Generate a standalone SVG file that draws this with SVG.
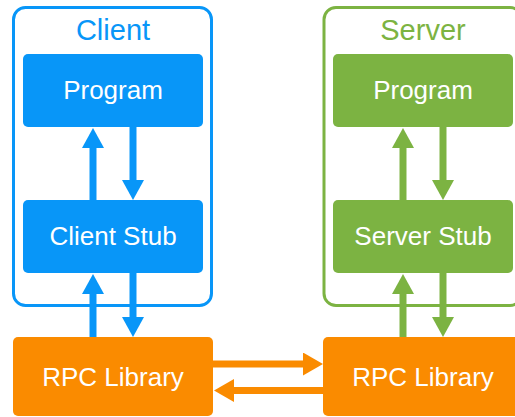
<svg xmlns="http://www.w3.org/2000/svg" width="515" height="417" viewBox="0 0 515 417">
  <style>
    text { font-family: "Liberation Sans", Arial, sans-serif; text-anchor: middle; }
    .label { font-size: 29px; }
    .node-text { font-size: 26px; fill: #ffffff; }
    .blue { fill: #0896F8; }
    .green { fill: #7CB342; }
    .orange { fill: #FA8B00; }
    .frame { fill: none; stroke-width: 3; }
    .shaft { stroke-width: 7; fill: none; }
    .hshaft { stroke-width: 7; fill: none; }
  </style>
  <defs>
    <marker id="head-blue" markerUnits="userSpaceOnUse" markerWidth="20" markerHeight="22" viewBox="0 0 20 22" refX="1" refY="11" orient="auto">
      <path d="M0,0 L20,11 L0,22 Z" fill="#0896F8"/>
    </marker>
    <marker id="head-green" markerUnits="userSpaceOnUse" markerWidth="20" markerHeight="22" viewBox="0 0 20 22" refX="1" refY="11" orient="auto">
      <path d="M0,0 L20,11 L0,22 Z" fill="#7CB342"/>
    </marker>
    <marker id="head-orange" markerUnits="userSpaceOnUse" markerWidth="20" markerHeight="23" viewBox="0 0 20 23" refX="1" refY="11.5" orient="auto">
      <path d="M0,0 L20,11.5 L0,23 Z" fill="#FA8B00"/>
    </marker>
  </defs>

  <!-- Client side -->
  <g id="client">
    <rect class="frame" x="13.5" y="7.5" width="198" height="298" rx="12" stroke="#0896F8"/>
    <text class="label blue" x="113" y="40">Client</text>
  </g>
  <g id="client-program">
    <rect class="blue" x="23" y="54" width="180" height="73" rx="5"/>
    <text class="node-text" x="113" y="99">Program</text>
  </g>
  <g id="client-stub">
    <rect class="blue" x="23" y="200" width="180" height="73" rx="5"/>
    <text class="node-text" x="113" y="245">Client Stub</text>
  </g>
  <g id="client-rpc">
    <rect class="orange" x="13" y="337" width="200" height="79" rx="5"/>
    <text class="node-text" x="113" y="386">RPC Library</text>
  </g>

  <!-- Server side -->
  <g id="server">
    <rect class="frame" x="324" y="7.5" width="198" height="298" rx="12" stroke="#7CB342"/>
    <text class="label green" x="423" y="40">Server</text>
  </g>
  <g id="server-program">
    <rect class="green" x="333" y="54" width="180" height="73" rx="5"/>
    <text class="node-text" x="423" y="99">Program</text>
  </g>
  <g id="server-stub">
    <rect class="green" x="333" y="200" width="180" height="73" rx="5"/>
    <text class="node-text" x="423" y="245">Server Stub</text>
  </g>
  <g id="server-rpc">
    <rect class="orange" x="323" y="337" width="200" height="79" rx="5"/>
    <text class="node-text" x="423" y="386">RPC Library</text>
  </g>

  <!-- Connectors -->
  <g id="connectors">
    <line class="shaft" x1="93" y1="200" x2="93" y2="147" stroke="#0896F8" marker-end="url(#head-blue)"/>
    <line class="shaft" x1="133" y1="127" x2="133" y2="181" stroke="#0896F8" marker-end="url(#head-blue)"/>
    <line class="shaft" x1="93" y1="337" x2="93" y2="293" stroke="#0896F8" marker-end="url(#head-blue)"/>
    <line class="shaft" x1="133" y1="273" x2="133" y2="318" stroke="#0896F8" marker-end="url(#head-blue)"/>

    <line class="shaft" x1="403" y1="200" x2="403" y2="147" stroke="#7CB342" marker-end="url(#head-green)"/>
    <line class="shaft" x1="443" y1="127" x2="443" y2="181" stroke="#7CB342" marker-end="url(#head-green)"/>
    <line class="shaft" x1="403" y1="337" x2="403" y2="293" stroke="#7CB342" marker-end="url(#head-green)"/>
    <line class="shaft" x1="443" y1="273" x2="443" y2="318" stroke="#7CB342" marker-end="url(#head-green)"/>

    <line class="hshaft" x1="213" y1="364" x2="304" y2="364" stroke="#FA8B00" marker-end="url(#head-orange)"/>
    <line class="hshaft" x1="323" y1="390.5" x2="233" y2="390.5" stroke="#FA8B00" marker-end="url(#head-orange)"/>
  </g>
</svg>
